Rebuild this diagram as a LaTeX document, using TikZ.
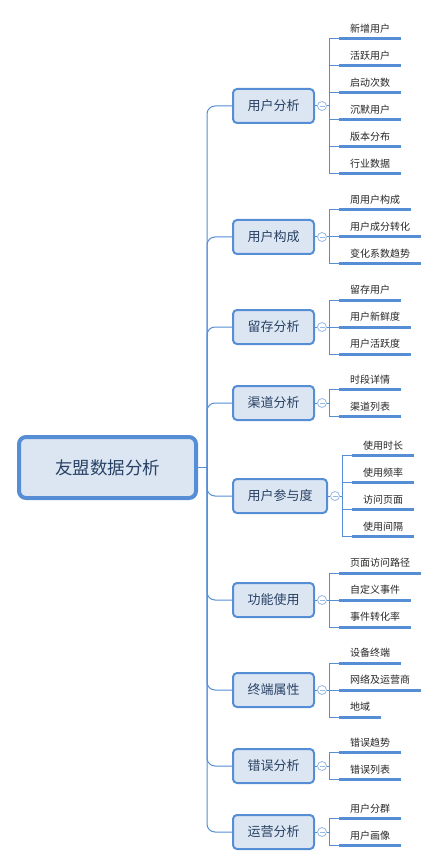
\documentclass[tikz,border=0pt]{standalone}
\usepackage{fontspec}
\setmainfont{Noto Sans CJK SC}
\usetikzlibrary{calc}
\definecolor{bl}{RGB}{85,142,213}
\definecolor{fillb}{RGB}{220,230,242}
\definecolor{txtb}{RGB}{40,65,100}
\definecolor{lc}{RGB}{150,185,230}
\definecolor{leaftxt}{RGB}{38,38,38}
\newcommand\mmbranch[5]{%
  \node[branchbox] (#1) at (232,#2) {#3};
  \draw[conn,rounded corners=8pt] (trunk) |- (#1.west);
  \node[togglec] (#1t) at ($(#1.east)+(7,0)$) {};
  \draw[lc,line width=0.8pt] ($(#1t)+(-2.5,0)$) -- ($(#1t)+(2.5,0)$);
  \coordinate (#1v) at ($(#1.east)+(14,0)$);
  \draw[conn] (#1.east) -- (#1t.west);
  \draw[conn] (#1t.east) -- (#1v);
  \foreach \txt [count=\i] in {#5}{
    \pgfmathsetmacro\dy{27*(\i-(#4+1)/2)}
    \node[leafnode] (#1l\i) at ($(#1v)+(10,\dy)$) {\txt};
    \draw[conn] (#1v) |- (#1l\i.south west);
    \draw[uline] (#1l\i.south west) -- (#1l\i.south east);
  }%
}
\begin{document}
\begin{tikzpicture}[x=1pt,y=-1pt,
  conn/.style={draw=bl,line width=1pt},
  branchbox/.style={draw=bl,line width=2pt,fill=fillb,rounded corners=4pt,minimum height=34pt,inner xsep=14.5pt,anchor=west,font=\fontsize{13}{13}\selectfont,text=txtb},
  rootbox/.style={draw=bl,line width=4pt,fill=fillb,rounded corners=7pt,minimum width=177pt,minimum height=61pt,font=\fontsize{17.5}{17.5}\selectfont,text=txtb},
  leafnode/.style={anchor=south west,inner xsep=11pt,inner ysep=4.7pt,text height=8pt,text depth=1.5pt,font=\fontsize{10}{10}\selectfont,text=leaftxt},
  uline/.style={draw=bl,line width=3pt},
  togglec/.style={circle,draw=lc,fill=white,line width=0.8pt,minimum size=9pt,inner sep=0pt}
]
\useasboundingbox (0,0) rectangle (437,866);
\node[rootbox] (root) at (107.5,467.5) {友盟数据分析};
\coordinate (trunk) at (207,467.5);
\draw[conn] (root.east) -- (trunk);
\mmbranch{b1}{106}{用户分析}{6}{新增用户,活跃用户,启动次数,沉默用户,版本分布,行业数据}
\mmbranch{b2}{237}{用户构成}{3}{周用户构成,用户成分转化,变化系数趋势}
\mmbranch{b3}{327}{留存分析}{3}{留存用户,用户新鲜度,用户活跃度}
\mmbranch{b4}{403}{渠道分析}{2}{时段详情,渠道列表}
\mmbranch{b5}{496}{用户参与度}{4}{使用时长,使用频率,访问页面,使用间隔}
\mmbranch{b6}{600}{功能使用}{3}{页面访问路径,自定义事件,事件转化率}
\mmbranch{b7}{690}{终端属性}{3}{设备终端,网络及运营商,地域}
\mmbranch{b8}{766}{错误分析}{2}{错误趋势,错误列表}
\mmbranch{b9}{832}{运营分析}{2}{用户分群,用户画像}
\end{tikzpicture}
\end{document}
